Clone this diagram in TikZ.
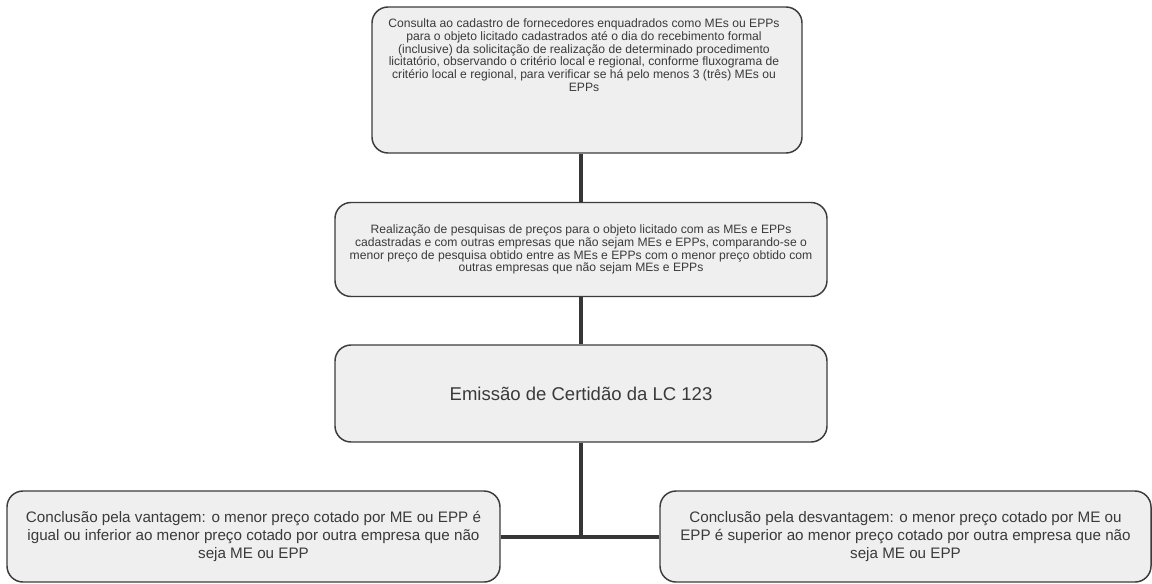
\documentclass[tikz,border=0pt]{standalone}
\usepackage{fontspec}
\setmainfont{Liberation Sans}
\usepackage{tikz}
\usepackage{xcolor}

\definecolor{boxfill}{HTML}{EFEFEF}
\definecolor{boxline}{HTML}{3C3C3C}
\definecolor{inktext}{HTML}{3A3A3A}

\begin{document}
\begin{tikzpicture}[x=0.75pt,y=-0.75pt,
    box/.style={draw=boxline, line width=1.1pt, fill=boxfill, rounded corners=12pt,
        text=inktext, align=center, inner sep=4pt},
    small/.style={font=\fontsize{9.1}{9.6}\selectfont},
    mid/.style={font=\fontsize{11.4}{13.2}\selectfont},
    big/.style={font=\fontsize{13.9}{16}\selectfont},
    link/.style={draw=boxline!90!black, line width=3pt}]
\useasboundingbox[fill=white] (0,0) rectangle (1152,583);

\node[box, minimum width=322.5pt, minimum height=109.5pt] (consulta) at (587,80) {};
\node[small, text=inktext, align=center, anchor=north] (consultatxt) at (584,14)
    {Consulta ao cadastro de fornecedores enquadrados como MEs ou EPPs\\
     para o objeto licitado cadastrados até o dia do recebimento formal\\
     (inclusive) da solicitação de realização de determinado procedimento\\
     licitatório, observando o critério local e regional, conforme fluxograma de\\
     critério local e regional, para verificar se há pelo menos 3 (três) MEs ou\\
     EPPs};

\node[box, small, minimum width=369pt, minimum height=70.5pt] (pesquisa) at (581,249.5)
    {Realização de pesquisas de preços para o objeto licitado com as MEs e EPPs\\
     cadastradas e com outras empresas que não sejam MEs e EPPs, comparando-se o\\
     menor preço de pesquisa obtido entre as MEs e EPPs com o menor preço obtido com\\
     outras empresas que não sejam MEs e EPPs};

\node[box, big, minimum width=369pt, minimum height=72.75pt] (certidao) at (581,393.5)
    {Emissão de Certidão da LC 123};

\node[box, mid, minimum width=369.75pt, minimum height=68.25pt] (vantagem) at (253.5,536.5)
    {Conclusão pela vantagem: o menor preço cotado por ME ou EPP é\\
     igual ou inferior ao menor preço cotado por outra empresa que não\\
     seja ME ou EPP};

\node[box, mid, minimum width=368.25pt, minimum height=68.25pt] (desvantagem) at (905.5,536.5)
    {Conclusão pela desvantagem: o menor preço cotado por ME ou\\
     EPP é superior ao menor preço cotado por outra empresa que não\\
     seja ME ou EPP};

\draw[link] (pesquisa.north |- consulta.south) -- (pesquisa.north);
\draw[link] (pesquisa.south) -- (certidao.north);
\draw[link] (certidao.south) -- (certidao.south |- vantagem.east);
\draw[link] (vantagem.east) -- (desvantagem.west);
\end{tikzpicture}
\end{document}
